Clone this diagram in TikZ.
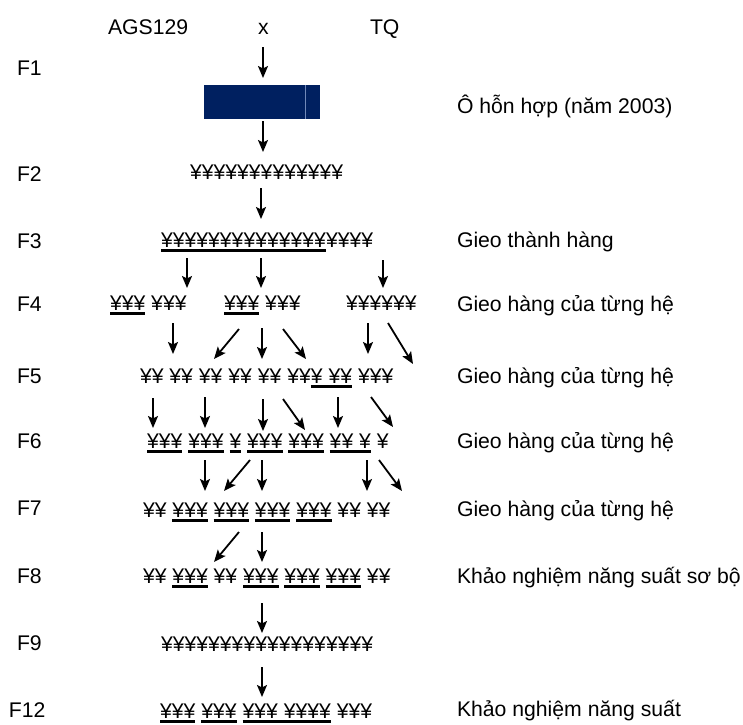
\documentclass[tikz,border=0pt]{standalone}
\usepackage{fontspec}
\setmainfont{Liberation Sans}
\usetikzlibrary{arrows.meta}
\definecolor{boxnavy}{HTML}{002060}
\definecolor{boxedge}{HTML}{7088B8}
\newcommand\myul[1]{\setbox0\hbox{#1}\rlap{\rule[-4.5pt]{\wd0}{2.6pt}}\box0\relax}
\begin{document}
\begin{tikzpicture}[x=1pt,y=-1pt,
  txt/.style={anchor=base west, inner sep=0pt, outer sep=0pt, font=\fontsize{21.2pt}{25pt}\selectfont},
  arr/.style={line width=1.8pt, -{Stealth[length=12pt,width=10pt,inset=2.5pt]}}]
\useasboundingbox (0,0) rectangle (743,724);
% top labels
\node[txt] (ags) at (108,34) {AGS129};
\node[txt] (cx) at (258,34) {x};
\node[txt] (tq) at (370,34) {TQ};
% generation labels
\node[txt] (g1) at (17,75) {F1};
\node[txt] (g2) at (17,181) {F2};
\node[txt] (g3) at (17,248) {F3};
\node[txt] (g4) at (17,311) {F4};
\node[txt] (g5) at (17,383) {F5};
\node[txt] (g6) at (17,448) {F6};
\node[txt] (g7) at (17,515) {F7};
\node[txt] (g8) at (17,583) {F8};
\node[txt] (g9) at (17,650) {F9};
\node[txt] (g12) at (9,717) {F12};
% right labels
\node[txt] (r1) at (457,113) {Ô hỗn hợp (năm 2003)};
\node[txt] (r3) at (457,247) {Gieo thành hàng};
\node[txt] (r4) at (457,311) {Gieo hàng của từng hệ};
\node[txt] (r5) at (457,383) {Gieo hàng của từng hệ};
\node[txt] (r6) at (457,448) {Gieo hàng của từng hệ};
\node[txt] (r7) at (457,516) {Gieo hàng của từng hệ};
\node[txt] (r8) at (457,583) {Khảo nghiệm năng suất sơ bộ};
\node[txt] (r12) at (457,716) {Khảo nghiệm năng suất};
% F1 box
\node[fill=boxnavy, minimum width=116pt, minimum height=34pt, inner sep=0pt, outer sep=0pt] (box) at (262,102) {};
\draw[boxedge, line width=0.8pt] (305,85) -- (305,119);
% rows
\node[txt] (row2) at (190,179) {¥¥¥¥¥¥¥¥¥¥¥¥¥};
\node[txt] (row3) at (161,247) {\myul{¥¥¥¥¥¥¥¥¥¥¥¥¥¥}¥¥¥¥};
\node[txt] (row4a) at (110,310) {\myul{¥¥¥} ¥¥¥};
\node[txt] (row4b) at (224,310) {\myul{¥¥¥} ¥¥¥};
\node[txt] (row4c) at (346,310) {¥¥¥¥¥¥};
\node[txt] (row5) at (140,383) {¥¥ ¥¥ ¥¥ ¥¥ ¥¥ ¥¥\myul{¥ ¥¥} ¥¥¥};
\node[txt] (row6) at (147,448) {\myul{¥¥¥} \myul{¥¥¥} \myul{¥} \myul{¥¥¥} \myul{¥¥¥} \myul{¥¥ ¥} ¥};
\node[txt] (row7) at (143,517) {¥¥ \myul{¥¥¥} \myul{¥¥¥} \myul{¥¥¥} \myul{¥¥¥} ¥¥ ¥¥};
\node[txt] (row8) at (143,583) {¥¥ \myul{¥¥¥} ¥¥ \myul{¥¥¥} \myul{¥¥¥} \myul{¥¥¥} ¥¥};
\node[txt] (row9) at (161,651) {¥¥¥¥¥¥¥¥¥¥¥¥¥¥¥¥¥¥};
\node[txt] (row12) at (160,718) {\myul{¥¥¥} \myul{¥¥¥} \myul{¥¥¥ ¥¥¥¥} ¥¥¥};
% arrows
\foreach \a/\b/\c/\d [count=\i] in {
  263/47/263/78, 263/121/263/152, 261/188/261/219,
  187/258/187/288, 261/258/261/288, 383/260/383/288,
  173/323/173/354, 239/329/214/359, 262/328/262/359, 283/329/306/359, 368/323/368/354, 388/323/413/364,
  153/398/153/428, 205/397/205/428, 263/399/263/431, 283/399/305/430, 338/397/338/428, 371/397/393/427,
  205/460/205/491, 250/460/224/491, 262/460/262/491, 367/460/367/491, 379/460/402/491,
  239/532/214/562, 262/532/262/562,
  262/603/262/633, 262/667/262/697} {
  \coordinate (s\i) at (\a,\b);
  \coordinate (e\i) at (\c,\d);
  \draw[arr] (s\i) -- (e\i);
}
\end{tikzpicture}
\end{document}
